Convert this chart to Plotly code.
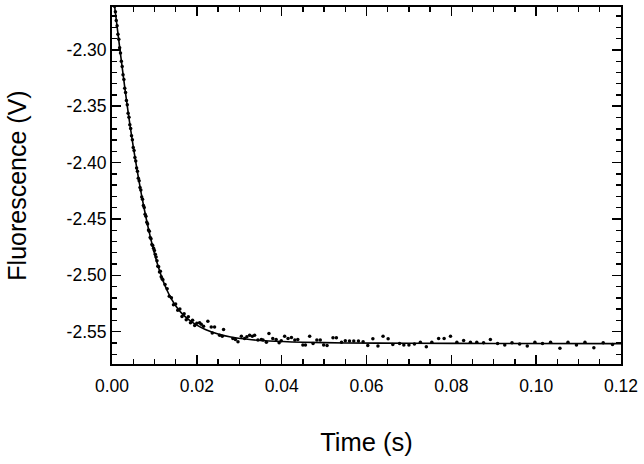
import plotly.graph_objects as go

# ---- fitted curve ----
fit_t = [0.0, 0.0005, 0.001, 0.002, 0.003, 0.004, 0.005, 0.006, 0.007, 0.008, 0.009, 0.010,
         0.011, 0.012, 0.013, 0.014, 0.015, 0.0165, 0.018, 0.020, 0.022, 0.025, 0.028, 0.032,
         0.037, 0.045, 0.055, 0.070, 0.090, 0.120]
fit_v = [-2.242, -2.2575, -2.273, -2.3035, -2.333, -2.3605, -2.3855, -2.4085, -2.4295, -2.4485,
         -2.4655, -2.4805, -2.4935, -2.5045, -2.5135, -2.521, -2.527, -2.534, -2.539, -2.5442,
         -2.548, -2.552, -2.5547, -2.5568, -2.5583, -2.5594, -2.5600, -2.5603, -2.5605, -2.5606]

data_t = [0.0004, 0.0006, 0.0008, 0.0010, 0.0012, 0.0014, 0.0016, 0.0018, 0.0020, 0.0022,
          0.0024, 0.0026, 0.0028, 0.0030, 0.0032, 0.0034, 0.0036, 0.0038, 0.0040, 0.0042,
          0.0044, 0.0046, 0.0048, 0.0050, 0.0052, 0.0054, 0.0056, 0.0058, 0.0060, 0.0062,
          0.0064, 0.0066, 0.0068, 0.0070, 0.0072, 0.0074, 0.0076, 0.0078, 0.0080, 0.0082,
          0.0084, 0.0086, 0.0088, 0.0090, 0.0092, 0.0094, 0.0096, 0.0098, 0.0100, 0.0102,
          0.0104, 0.0106, 0.0108, 0.0110, 0.0112, 0.0114, 0.0116, 0.0118, 0.0120,
          0.0125, 0.0130, 0.0135, 0.0140, 0.0145, 0.0150, 0.0155, 0.0160, 0.0165, 0.0170,
          0.0175, 0.0180, 0.0185, 0.0190, 0.0195, 0.0200,
          0.02064, 0.02104, 0.02158, 0.0226, 0.0234, 0.02364, 0.02418, 0.02536, 0.0260, 0.0263,
          0.0285, 0.0291, 0.0297, 0.0305, 0.03126, 0.0318, 0.03244, 0.03307, 0.03362, 0.0344,
          0.0352, 0.0356, 0.0364, 0.0370, 0.0379, 0.0387, 0.0394, 0.0399, 0.0407, 0.0415,
          0.0423, 0.0431, 0.0438, 0.0450, 0.0456, 0.0466, 0.0474, 0.0483, 0.0491, 0.0499,
          0.0507, 0.0521, 0.0529, 0.0541, 0.0550, 0.0560, 0.0570, 0.0581, 0.0592, 0.0603,
          0.0615, 0.0627, 0.0639, 0.0651, 0.0662,
          0.0678, 0.0688, 0.0700, 0.0713, 0.0727, 0.0741, 0.0754, 0.0770, 0.0783, 0.0798,
          0.0813, 0.0829, 0.0845, 0.0860, 0.0876, 0.0892, 0.0909, 0.0926, 0.0943, 0.0961,
          0.0979, 0.0997, 0.1015, 0.1034, 0.1056, 0.1075, 0.1095, 0.1115, 0.1136, 0.1158,
          0.1180]
data_v = [-2.2540, -2.2612, -2.2662, -2.2738, -2.2785, -2.2860, -2.2905, -2.2981, -2.3028, -2.3101,
          -2.3146, -2.3220, -2.3262, -2.3339, -2.3378, -2.3449, -2.3486, -2.3561, -2.3597, -2.3664,
          -2.3698, -2.3762, -2.3797, -2.3866, -2.3893, -2.3955, -2.3985, -2.4048, -2.4076, -2.4138,
          -2.4160, -2.4220, -2.4244, -2.4306, -2.4325, -2.4380, -2.4398, -2.4458, -2.4476, -2.4530,
          -2.4544, -2.4598, -2.4610, -2.4664, -2.4676, -2.4726, -2.4735, -2.4760, -2.4780, -2.4812,
          -2.4838, -2.4870, -2.4920, -2.4925, -2.4970, -2.4965, -2.5012, -2.5030, -2.5040,
          -2.5082, -2.5120, -2.5185, -2.5198, -2.5262, -2.5255, -2.5310, -2.5300, -2.5365, -2.5340,
          -2.5395, -2.5368, -2.5420, -2.5398, -2.5445, -2.5425,
          -2.5422, -2.5434, -2.5451, -2.5407, -2.5458, -2.5511, -2.5458, -2.5531, -2.5540, -2.5481,
          -2.5560, -2.5569, -2.5590, -2.5540, -2.5560, -2.5546, -2.5531, -2.5540, -2.5531, -2.5575,
          -2.5569, -2.5575, -2.5593, -2.5516, -2.5560, -2.5569, -2.5599, -2.5581, -2.5540, -2.5560,
          -2.5551, -2.5575, -2.5569, -2.5619, -2.5619, -2.5540, -2.5604, -2.5575, -2.5575, -2.5619,
          -2.5622, -2.5555, -2.5555, -2.5593, -2.5581, -2.5584, -2.5584, -2.5584, -2.5590, -2.5622,
          -2.5564, -2.5628, -2.5540, -2.5564, -2.5613,
          -2.5604, -2.5619, -2.5619, -2.5610, -2.5595, -2.5634, -2.5595, -2.5560, -2.5560, -2.5540,
          -2.5593, -2.5578, -2.5593, -2.5593, -2.5599, -2.5569, -2.5604, -2.5619, -2.5599, -2.5610,
          -2.5628, -2.5593, -2.5604, -2.5593, -2.5648, -2.5593, -2.5619, -2.5595, -2.5643, -2.5599,
          -2.5613]

# ---- tick labels ----
x_tickvals = [0.00, 0.02, 0.04, 0.06, 0.08, 0.10, 0.12]
x_ticktext = ["0.00", "0.02", "0.04", "0.06", "0.08", "0.10", "0.12"]
y_tickvals = [-2.30, -2.35, -2.40, -2.45, -2.50, -2.55]
y_ticktext = ["-2.30", "-2.35", "-2.40", "-2.45", "-2.50", "-2.55"]

FONT = "Liberation Sans, Arial, sans-serif"

fig = go.Figure()
fig.add_trace(go.Scatter(x=data_t, y=data_v, mode="markers",
                         marker=dict(color="black", size=3.5), showlegend=False))
fig.add_trace(go.Scatter(x=fit_t, y=fit_v, mode="lines",
                         line=dict(color="black", width=1.6, shape="spline", smoothing=0.6),
                         showlegend=False))

axis_common = dict(showline=True, linecolor="black", linewidth=2, mirror="allticks",
                   ticks="inside", ticklen=9, tickwidth=1.6, tickcolor="black",
                   showgrid=False, zeroline=False,
                   tickfont=dict(family=FONT, size=17.5, color="black"))

fig.update_xaxes(range=[0, 0.12], tickmode="array", tickvals=x_tickvals, ticktext=x_ticktext,
                 minor=dict(tickmode="linear", tick0=0, dtick=0.005, ticks="inside",
                            ticklen=5, tickwidth=1.4, tickcolor="black", showgrid=False),
                 title=dict(text="Time (s)", font=dict(family=FONT, size=25.5, color="black"),
                            standoff=38),
                 ticklabelstandoff=5, **axis_common)
fig.update_yaxes(range=[-2.5787, -2.2619], tickmode="array", tickvals=y_tickvals,
                 ticktext=y_ticktext,
                 minor=dict(tickmode="linear", tick0=-2.30, dtick=0.01, ticks="inside",
                            ticklen=5, tickwidth=1.4, tickcolor="black", showgrid=False),
                 title=dict(text="Fluorescence (V)", font=dict(family=FONT, size=25, color="black"),
                            standoff=33),
                 **axis_common)

fig.update_layout(width=644, height=464, margin=dict(l=112, r=23, t=5, b=100),
                  plot_bgcolor="white", paper_bgcolor="white", hovermode=False)

fig.write_html("out.html", config={"displayModeBar": False, "staticPlot": True},
               post_script="document.body.style.margin='0';document.body.style.overflow='hidden';")
